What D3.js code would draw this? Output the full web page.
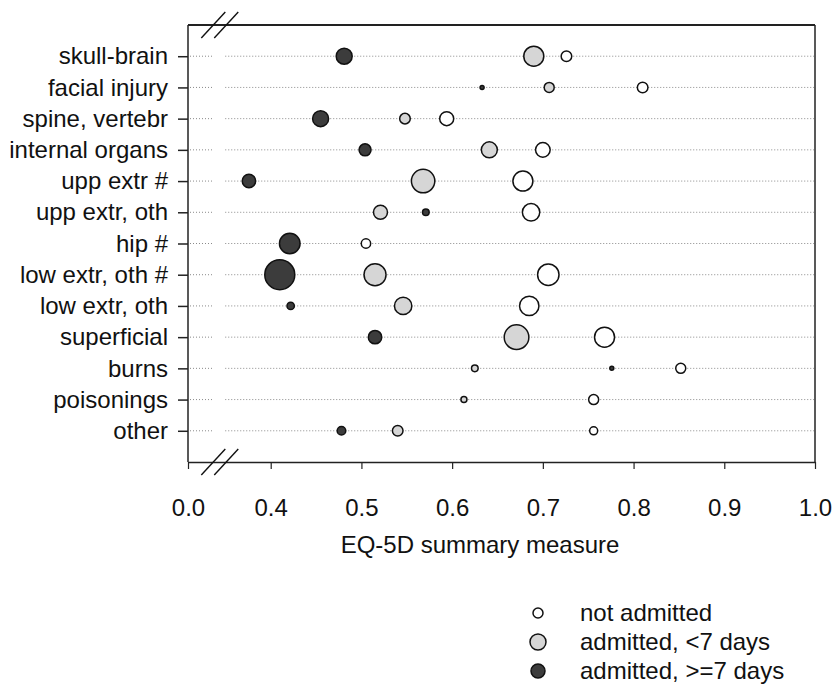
<!DOCTYPE html>
<html>
<head>
<meta charset="utf-8">
<script src="https://d3js.org/d3.v7.min.js"></script>
<style>
  body { margin: 0; background: #fff; }
  svg text { font-family: "Liberation Sans", Arial, sans-serif; fill: #111; }
  .grid line { stroke: #8a8a8a; stroke-width: 1; stroke-dasharray: 1,2; }
  .frame { stroke: #222; fill: none; }
</style>
</head>
<body>
<svg id="chart" width="836" height="685"></svg>
<script>
// injury groups, top to bottom
const categories = ['skull-brain', 'facial injury', 'spine, vertebr', 'internal organs',
  'upp extr #', 'upp extr, oth', 'hip #', 'low extr, oth #', 'low extr, oth',
  'superficial', 'burns', 'poisonings', 'other'];

// mean EQ-5D per group (null = not shown)
const notAdmitted   = [0.726, 0.810, 0.594, 0.700, 0.678, 0.687, 0.505, 0.706, 0.685, 0.768, 0.852, 0.756, 0.756];
const admittedShort = [0.690, 0.707, 0.548, 0.641, 0.568, 0.521, null, 0.515, 0.546, 0.671, 0.625, 0.613, 0.540];
const admittedLong  = [0.481, 0.633, 0.455, 0.504, 0.376, 0.571, 0.421, 0.410, 0.422, 0.515, 0.776, null, 0.478];

// relative group sizes (bubble area)
const nNotAdmitted   = [56, 56, 98, 107, 200, 151, 44, 229, 188, 200, 50, 50, 32];
const nAdmittedShort = [200, 50, 56, 128, 274, 98, 0, 242, 151, 303, 22, 18, 56];
const nAdmittedLong  = [128, 8, 128, 72, 90, 22, 212, 450, 27, 90, 8, 0, 37];

const xTicks = [0, 0.4, 0.5, 0.6, 0.7, 0.8, 0.9, 1.0];
const seriesNames = ['not admitted', 'admitted, <7 days', 'admitted, >=7 days'];

const svg = d3.select('#chart');
const plot = { left: 188, right: 815, top: 25, bottom: 462 };

// broken axis: 0 .. 0.35 squeezed in front of the break, linear after it
const x = d3.scaleLinear().domain([0, 0.35, 1.0]).range([plot.left, 225.35, plot.right]);
const y = d3.scalePoint().domain(categories).range([plot.top, plot.bottom]).padding(1);
const r = d3.scaleSqrt().domain([0, 450]).range([0, 15]);
const breakVals = [0.237, 0.351];

const fills = { 'not admitted': '#ffffff', 'admitted, <7 days': '#d6d6d6', 'admitted, >=7 days': '#3c3c3c' };

// dotted row lines, interrupted at the axis break
const grid = svg.append('g').attr('class', 'grid');
categories.forEach(c => {
  grid.append('line').attr('x1', x(0) + 2).attr('x2', x(breakVals[0])).attr('y1', y(c)).attr('y2', y(c));
  grid.append('line').attr('x1', x(0.349)).attr('x2', x(1) - 1).attr('y1', y(c)).attr('y2', y(c));
});

// frame: top + right border
svg.append('line').attr('class', 'frame').attr('x1', plot.left).attr('x2', plot.right)
  .attr('y1', plot.top).attr('y2', plot.top).attr('stroke-width', 2).attr('stroke', '#444');
svg.append('line').attr('class', 'frame').attr('x1', plot.right).attr('x2', plot.right)
  .attr('y1', plot.top).attr('y2', plot.bottom).attr('stroke-width', 1.5);

// x axis
const xAxis = svg.append('g')
  .attr('transform', `translate(0,${plot.bottom})`)
  .call(d3.axisBottom(x).tickValues(xTicks).tickFormat(d3.format('.1f')).tickSize(7).tickSizeOuter(0).tickPadding(30));
xAxis.select('.domain').attr('stroke', '#222').attr('stroke-width', 1.5);
xAxis.selectAll('.tick line').attr('stroke', '#222').attr('stroke-width', 1.2);
xAxis.selectAll('text').attr('font-size', 24).attr('font-family', '"Liberation Sans", Arial, sans-serif').attr('fill', '#111');

// y axis
const yAxis = svg.append('g')
  .attr('transform', `translate(${plot.left},0)`)
  .call(d3.axisLeft(y).tickSize(10).tickSizeOuter(0).tickPadding(10));
yAxis.select('.domain').attr('stroke', '#222').attr('stroke-width', 1.5)
  .attr('d', `M0,${plot.top}V${plot.bottom}`);
yAxis.selectAll('.tick line').attr('stroke', '#222').attr('stroke-width', 1.5);
yAxis.selectAll('text').attr('font-size', 24).attr('font-family', '"Liberation Sans", Arial, sans-serif').attr('fill', '#111');

// axis break marks (//) top and bottom
function breakMarks(yy) {
  const g = svg.append('g');
  breakVals.forEach(v => {
    g.append('line').attr('x1', x(v) - 12).attr('y1', yy + 13).attr('x2', x(v) + 12).attr('y2', yy - 13)
      .attr('stroke', '#111').attr('stroke-width', 1.4);
  });
}
breakMarks(plot.top);
breakMarks(plot.bottom);

// bubbles
const points = [];
categories.forEach((c, i) => {
  [[notAdmitted, nNotAdmitted, 0], [admittedShort, nAdmittedShort, 1], [admittedLong, nAdmittedLong, 2]]
    .forEach(([vals, ns, k]) => {
      if (vals[i] != null && ns[i] > 0) points.push({ cat: c, v: vals[i], n: ns[i], s: seriesNames[k] });
    });
});
points.sort((a, b) => b.n - a.n);

svg.append('g').selectAll('circle').data(points).join('circle')
  .attr('cx', d => x(d.v))
  .attr('cy', d => y(d.cat))
  .attr('r', d => r(d.n))
  .attr('fill', d => fills[d.s])
  .attr('stroke', '#111')
  .attr('stroke-width', 1.5);

// axis title
svg.append('text')
  .attr('x', 480).attr('y', 553)
  .attr('text-anchor', 'middle')
  .attr('font-size', 24)
  .text('EQ-5D summary measure');

// legend
const legendR = [5, 8, 7];
const legend = svg.append('g').attr('transform', 'translate(538,613)');
seriesNames.forEach((name, i) => {
  const row = legend.append('g').attr('transform', `translate(0,${i * 29})`);
  row.append('circle').attr('r', legendR[i]).attr('fill', fills[name])
    .attr('stroke', '#111').attr('stroke-width', 1.5);
  row.append('text').attr('x', 42).attr('dy', '0.35em').attr('font-size', 24).text(name);
});
</script>
</body>
</html>
